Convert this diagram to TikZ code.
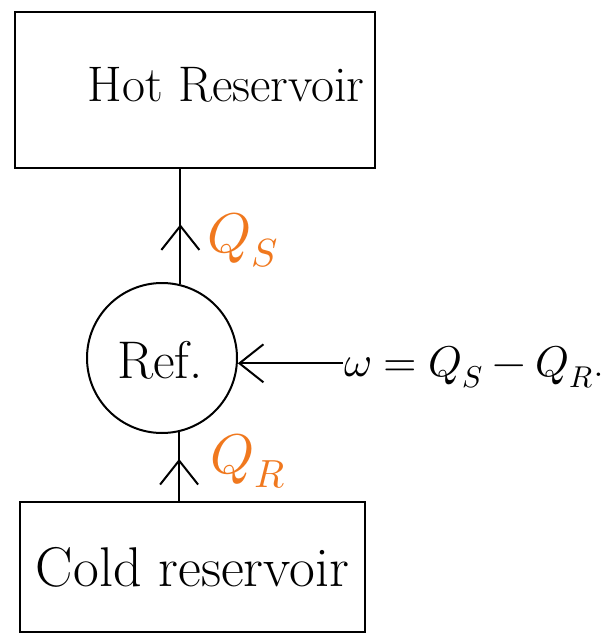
\documentclass[tikz,border=0pt]{standalone}
\usepackage{unicode-math}
\usetikzlibrary{arrows.meta,decorations.markings}
\definecolor{qorange}{RGB}{240,120,30}
\begin{document}
\begin{tikzpicture}[x=1pt,y=-1pt,line width=2pt,
  box/.style={draw,rectangle,inner sep=0pt},
  lbl/.style={inner sep=0pt,font=\fontsize{50}{56}\selectfont},
  coldlbl/.style={inner sep=0pt,font=\fontsize{56}{62}\selectfont},
  heat/.style={inner sep=0pt,text=qorange,font=\fontsize{56}{62}\selectfont},
  worklbl/.style={inner sep=0pt,font=\fontsize{43}{48}\selectfont},
  barb/.style={-{Straight Barb[length=24pt,width=38pt]}},
  midarrow/.style={postaction={decorate},decoration={markings,
    mark=at position #1 with {\arrow{Straight Barb[length=24pt,width=38pt]}}}}
]
\useasboundingbox (0,0) rectangle (608,634);
% boxes
\node[box,minimum width=360pt,minimum height=156pt] (hot) at (195,90) {};
\node[lbl] (hottext) at (226,85) {Hot Reservoir};
\node[box,minimum width=345pt,minimum height=130pt,coldlbl] (cold) at (192.5,567) {Cold reservoir};
% refrigerator
\node[draw,circle,minimum size=150pt,inner sep=0pt] (ref) at (162,358) {};
\node[lbl,font=\fontsize{53}{58}\selectfont] (reftext) at (160,360) {Ref.};
% labels
\node[heat] (qs) at (243,240) {$Q_S$};
\node[heat] (qr) at (248,461) {$Q_R$};
\node[worklbl,anchor=west] (work) at (343,367) {$\omega = Q_S - Q_R$.};
% connectors
\draw[midarrow=0.52] (ref.76) -- (ref.76 |- hot.south);
\draw[midarrow=0.61] (ref.-77 |- cold.north) -- (ref.-77);
\draw[barb] (ref.-4 -| work.west) -- (ref.-4);
\end{tikzpicture}
\end{document}
